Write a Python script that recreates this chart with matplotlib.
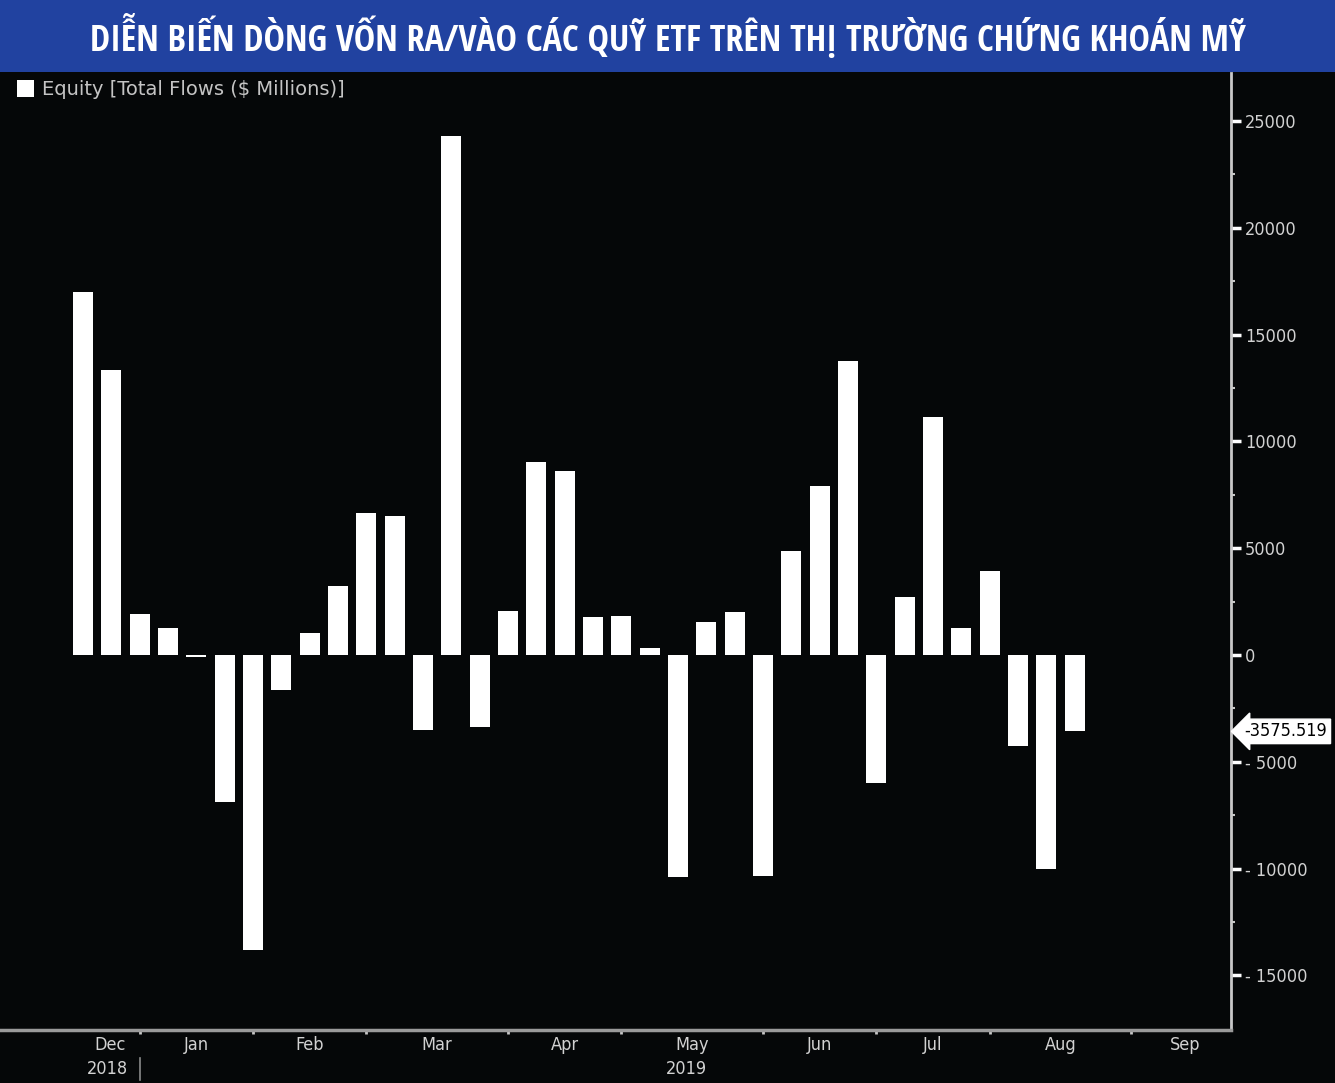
import matplotlib
matplotlib.use("Agg")
import matplotlib.pyplot as plt
from matplotlib.ticker import FixedLocator, FuncFormatter
from matplotlib import font_manager
import matplotlib.transforms as mtransforms
import numpy as np

# ---------------- data ----------------
title = "DIỄN BIẾN DÒNG VỐN RA/VÀO CÁC QUỸ ETF TRÊN THỊ TRƯỜNG CHỨNG KHOÁN MỸ"
series_label = "Equity [Total Flows ($ Millions)]"
flows = [17000, 13330, 1920, 1260, -100, -6880, -13800, -1650, 1030, 3230,
         6640, 6500, -3510, 24320, -3370, 2060, 9030, 8610, 1780, 1820,
         330, -10380, 1540, 1990, -10330, 4860, 7900, 13750, -5990, 2710,
         11130, 1260, 3930, -4260, -10010, -3575.519]
month_labels = ["Dec", "Jan", "Feb", "Mar", "Apr", "May", "Jun", "Jul", "Aug", "Sep"]
month_label_pos = [0.95, 4, 8, 12.5, 17, 21.5, 26, 30, 34.5, 38.9]
month_start_week = [2, 6, 10, 15, 19, 24, 28, 32, 37]
year_labels = ["2018", "2019"]
year_label_pos = [0.85, 21.3]
y_major = [-15000, -10000, -5000, 0, 5000, 10000, 15000, 20000, 25000]
y_minor = [-12500, -7500, -2500, 2500, 7500, 12500, 17500, 22500]

W, H = 1335, 1083
BG = "#050708"
AXC = "#c8c8c8"
TXT = "#d2d2d2"
tick_font = dict(family=["DejaVu Sans"], stretch="condensed")

fig = plt.figure(figsize=(W / 100, H / 100), dpi=100, facecolor=BG)

# title band
band = plt.Rectangle((0, 1 - 72 / H), 1, 72 / H, transform=fig.transFigure,
                     facecolor="#2142a0", edgecolor="none", zorder=0)
fig.patches.append(band)

ax = fig.add_axes([0, (H - 1030) / H, 1231 / W, (1030 - 73) / H])
ax.set_facecolor(BG)
x = np.arange(len(flows))
ax.bar(x, flows, width=0.71, color="white", edgecolor="none", label=series_label, zorder=3)
ax.set_xlim(-2.93, 40.52)
ax.set_ylim(-17557, 27248)

for s in ["left", "top"]:
    ax.spines[s].set_visible(False)
ax.spines["right"].set_color(AXC)
ax.spines["right"].set_linewidth(2)
ax.spines["bottom"].set_color("#9a9a9a")
ax.spines["bottom"].set_linewidth(2.5)

ax.yaxis.tick_right()
ax.yaxis.set_major_locator(FixedLocator(y_major))
ax.yaxis.set_minor_locator(FixedLocator(y_minor))
ax.yaxis.set_major_formatter(FuncFormatter(lambda v, p: f"- {abs(int(v))}" if v < 0 else f"{int(v)}"))
ax.tick_params(axis="y", which="major", direction="out", length=7, width=2.5,
               color="white", labelcolor=TXT, labelsize=13, pad=3)
ax.tick_params(axis="y", which="minor", direction="out", length=3, width=1.5, color=AXC)
for lab in ax.get_yticklabels():
    lab.set_fontstretch("condensed")

ax.xaxis.set_major_locator(FixedLocator(month_start_week))
ax.tick_params(axis="x", which="major", direction="out", length=3, width=2,
               color=AXC, labelbottom=False)

trans = mtransforms.blended_transform_factory(ax.transData, ax.transAxes)
for lab, pos in zip(month_labels, month_label_pos):
    ax.text(pos, -0.016, lab, transform=trans, ha="center", va="center",
            color=TXT, fontsize=13, **tick_font)
for lab, pos in zip(year_labels, year_label_pos):
    ax.text(pos, -0.041, lab, transform=trans, ha="center", va="center",
            color=TXT, fontsize=13, **tick_font)
ax.plot([month_start_week[0]] * 2, [-0.029, -0.052], transform=trans, color="#8a8a8a",
        lw=1.2, clip_on=False)

# last value tag
last = flows[-1]
ytrans = mtransforms.blended_transform_factory(ax.transAxes, ax.transData)
ax.text(1.011, last, f"{last:.3f}", transform=ytrans, ha="left", va="center",
        color="black", fontsize=13,
        bbox=dict(boxstyle="larrow,pad=0.18", facecolor="white", edgecolor="white"),
        **tick_font)

# legend
leg = ax.legend(loc="upper left", bbox_to_anchor=(9 / W, 1 - 72 / H),
                bbox_transform=fig.transFigure, frameon=False, fontsize=14,
                handlelength=0.9, handleheight=1.0, handletextpad=0.4,
                labelcolor="#c4c4c4", borderaxespad=0)

# title, fitted to width; choose the narrowest installed bold face
names = {f.name for f in font_manager.fontManager.ttflist}
candidates = [("Liberation Sans Narrow", "normal"), ("DejaVu Sans", "condensed"),
              ("Roboto Condensed", "normal"), ("Open Sans Condensed", "normal")]
tt = fig.text(0.5, 1 - 37 / H, title, ha="center", va="center", color="white",
              fontsize=28, fontweight="bold")
best = None
for fam, st in candidates:
    if fam not in names:
        continue
    tt.set_family([fam, "DejaVu Sans"])
    tt.set_fontstretch(st)
    tt.set_fontsize(28)
    fig.canvas.draw()
    w = tt.get_window_extent().width
    size = 28 * 1159 / w
    if best is None or size > best[2]:
        best = (fam, st, size)
if best is None:
    best = ("DejaVu Sans", "condensed", 22)
tt.set_family([best[0], "DejaVu Sans"])
tt.set_fontstretch(best[1])
tt.set_fontsize(best[2])

fig.savefig("out.png", dpi=100, facecolor=BG)
